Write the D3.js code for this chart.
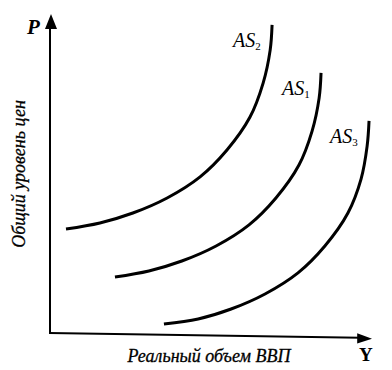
<!DOCTYPE html>
<html>
<head>
<meta charset="utf-8">
<script src="https://cdn.jsdelivr.net/npm/d3@7"></script>
<style>
  body { margin: 0; background: #fff; }
  svg { display: block; }
</style>
</head>
<body>
<div id="chart-area"></div>
<script>
const as2X = [5.0, 15.6, 25.9, 36.6, 46.9, 55.3, 62.5, 66.6, 68.8, 69.4];
const as2Y = [32.5, 34.4, 37.5, 42.2, 48.8, 57.2, 67.5, 78.1, 88.4, 96.3];
const as1X = [20.3, 30.9, 41.2, 51.9, 62.2, 70.6, 77.8, 81.9, 84.1, 84.7];
const as1Y = [17.5, 19.4, 22.5, 27.2, 33.8, 42.2, 52.5, 63.1, 73.4, 81.3];
const as3X = [35.6, 46.3, 56.6, 67.2, 77.5, 85.9, 93.1, 97.2, 99.1, 99.7];
const as3Y = [2.8, 4.4, 7.5, 12.2, 18.8, 27.2, 37.5, 48.1, 58.4, 66.3];
const curveNames = ["2", "1", "3"];
const axisTitles = ["Общий уровень цен", "Реальный объем ВВП"];
const axisLetters = ["P", "Y"];

const width = 392, height = 370;

const svg = d3.select("#chart-area").append("svg")
    .attr("width", width)
    .attr("height", height);

const x = d3.scaleLinear().domain([0, 100]).range([50, 370]);
const y = d3.scaleLinear().domain([0, 100]).range([333, 13]);

// axes (plain lines with arrow heads, no ticks)
svg.append("line")
    .attr("x1", x(0)).attr("y1", y(0))
    .attr("x2", x(0)).attr("y2", y(96))
    .attr("stroke", "#000").attr("stroke-width", 2);
svg.append("path")
    .attr("d", `M${x(0) + 1},${y(100) + 1} L${x(0) - 5},${y(95)} L${x(0) + 7},${y(95)} Z`)
    .attr("fill", "#000");

svg.append("line")
    .attr("x1", x(0) - 1).attr("y1", y(0))
    .attr("x2", x(97)).attr("y2", y(-1.5))
    .attr("stroke", "#000").attr("stroke-width", 2);
svg.append("path")
    .attr("d", `M${x(100) + 2},${y(-1.8)} L${x(96)},${y(-0.1)} L${x(96)},${y(-3.3)} Z`)
    .attr("fill", "#000");

// the three AS curves
const series = [
  {xs: as2X, ys: as2Y},
  {xs: as1X, ys: as1Y},
  {xs: as3X, ys: as3Y}
];

const line = d3.line()
    .x(d => x(d[0]))
    .y(d => y(d[1]))
    .curve(d3.curveCatmullRom);

svg.selectAll("path.as")
    .data(series)
  .enter().append("path")
    .attr("class", "as")
    .attr("d", s => line(s.xs.map((v, i) => [v, s.ys[i]])))
    .attr("fill", "none")
    .attr("stroke", "#000")
    .attr("stroke-width", 3);

// AS labels sit left of each curve top
const labels = svg.selectAll("text.as")
    .data(series)
  .enter().append("text")
    .attr("class", "as")
    .attr("x", s => x(s.xs[s.xs.length - 1]) - 39)
    .attr("y", s => y(s.ys[s.ys.length - 1]) + 22)
    .attr("font-family", "'Liberation Serif', serif")
    .attr("font-style", "italic")
    .attr("font-size", 20);
labels.append("tspan").text("AS");
labels.append("tspan")
    .attr("font-size", 11)
    .attr("font-style", "normal")
    .attr("dy", 3)
    .text((s, i) => curveNames[i]);

// axis letters
svg.append("text")
    .attr("x", 27).attr("y", 34)
    .attr("font-family", "'Liberation Serif', serif")
    .attr("font-weight", "bold").attr("font-style", "italic")
    .attr("font-size", 21)
    .text(axisLetters[0]);
svg.append("text")
    .attr("x", 359).attr("y", 361)
    .attr("font-family", "'Liberation Serif', serif")
    .attr("font-weight", "bold")
    .attr("font-size", 19)
    .text(axisLetters[1]);

// axis titles
svg.append("text")
    .attr("transform", "translate(25,174) rotate(-90)")
    .attr("text-anchor", "middle")
    .attr("font-family", "'Liberation Serif', serif")
    .attr("font-style", "italic")
    .attr("font-size", 18)
    .attr("stroke", "#000").attr("stroke-width", 0.3)
    .text(axisTitles[0]);
svg.append("text")
    .attr("x", 209).attr("y", 362)
    .attr("text-anchor", "middle")
    .attr("font-family", "'Liberation Serif', serif")
    .attr("font-style", "italic")
    .attr("font-size", 18)
    .attr("stroke", "#000").attr("stroke-width", 0.3)
    .text(axisTitles[1]);
</script>
</body>
</html>
